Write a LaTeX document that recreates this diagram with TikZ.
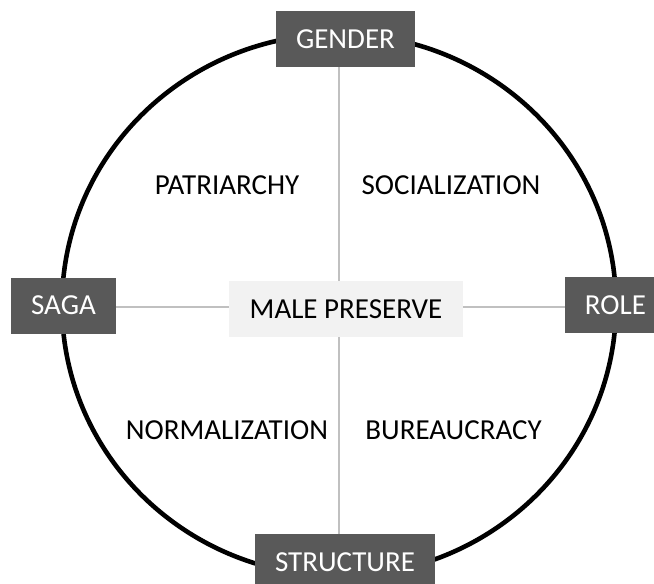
\documentclass[tikz,border=0pt]{standalone}
\usepackage{fontspec}
\setmainfont{Carlito}
\definecolor{boxdark}{HTML}{595959}
\definecolor{boxlight}{HTML}{F2F2F2}
\definecolor{spoke}{HTML}{C0C0C0}
\begin{document}
\begin{tikzpicture}[x=1pt,y=-1pt,
  label/.style={font=\fontsize{29}{34}\selectfont, inner sep=0pt},
  pole/.style={label, fill=boxdark, text=white, minimum height=56pt},
  hubbox/.style={label, fill=boxlight, text=black, minimum height=56pt, minimum width=234pt},
  ring/.style={line width=4.6pt, black},
  spokeline/.style={line width=2pt, spoke}]
\useasboundingbox (0,0) rectangle (654,584);
\clip (0,0) rectangle (654,584);
% outer ring
\draw[ring] (339,305) ellipse [x radius=277, y radius=271];
% crossing point of the spokes
\coordinate (hub) at (339,307);
% centre and pole boxes
\node[hubbox] (male) at (346,309) {MALE PRESERVE};
\node[pole, minimum width=139pt] (gender) at (345.5,39) {GENDER};
\node[pole, minimum width=105pt] (saga) at (63.5,305.5) {SAGA};
\node[pole, minimum width=101pt] (role) at (615.5,305) {ROLE};
\node[pole, minimum width=180pt] (structure) at (345,562) {STRUCTURE};
% spokes
\draw[spokeline] (hub |- gender.south) -- (hub |- male.north);
\draw[spokeline] (hub |- male.south) -- (hub |- structure.north);
\draw[spokeline] (hub -| saga.east) -- (hub -| male.west);
\draw[spokeline] (hub -| male.east) -- (hub -| role.west);
% quadrant labels
\node[label] (patriarchy) at (227,185) {PATRIARCHY};
\node[label] (socialization) at (451,185) {SOCIALIZATION};
\node[label] (normalization) at (227,430.5) {NORMALIZATION};
\node[label] (bureaucracy) at (453.5,430.5) {BUREAUCRACY};
\end{tikzpicture}
\end{document}
